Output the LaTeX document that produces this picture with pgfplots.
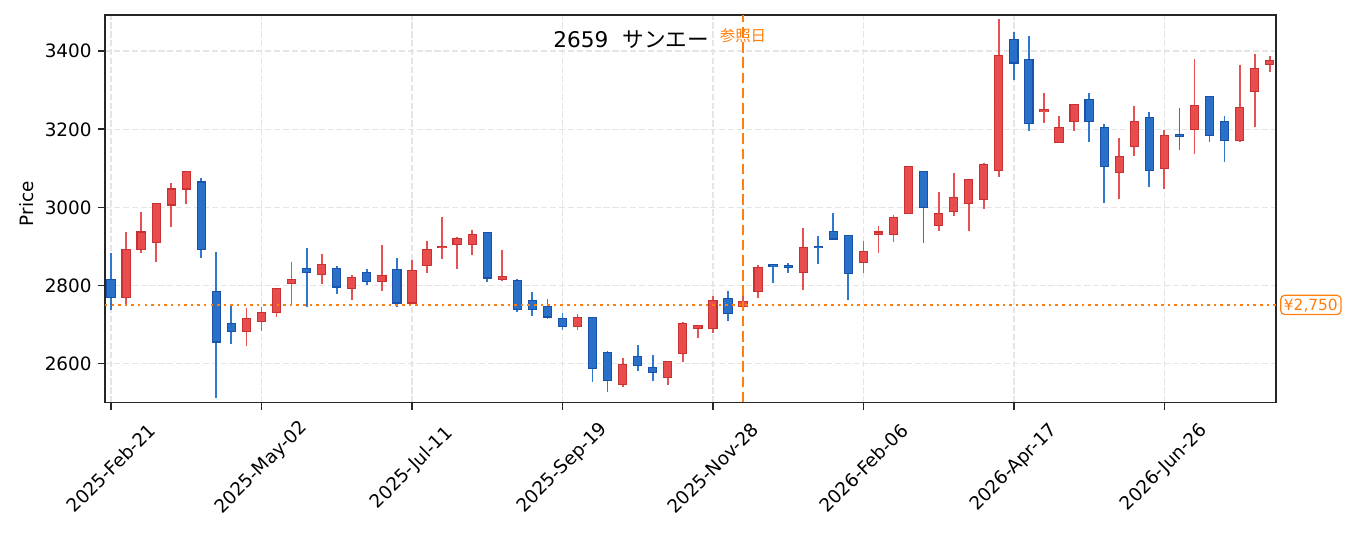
\documentclass[border=0pt]{standalone}
\usepackage{fontspec}
\setmainfont{DejaVu Sans}
\newfontfamily\jp{Noto Sans CJK JP}
\usepackage{pgfplots}
\usepackage{pgfplotstable}
\pgfplotsset{compat=1.18}

\definecolor{upfill}{RGB}{232,76,76}
\definecolor{upedge}{RGB}{200,50,50}
\definecolor{upwick}{RGB}{230,82,82}
\definecolor{dnfill}{RGB}{41,112,201}
\definecolor{dnedge}{RGB}{25,82,168}
\definecolor{dnwick}{RGB}{48,120,205}
\definecolor{mplorange}{RGB}{255,127,14}

% weekly candles: x = week index from 2025-Feb-21, l = low, bl/bh = box low/high, h = high
\pgfplotstableread{
x l bl bh h
1 2753 2770 2893 2938
2 2882 2891 2937 2987
3 2859 2909 3009 3009
4 2949 3006 3047 3063
5 3008 3047 3093 3093
9 2644 2681 2715 2743
10 2682 2707 2731 2744
11 2720 2730 2792 2792
12 2750 2804 2815 2860
14 2803 2827 2854 2881
16 2762 2791 2821 2827
18 2785 2809 2826 2904
20 2755 2755 2839 2866
21 2833 2850 2892 2914
22 2868 2897 2900 2976
23 2843 2904 2921 2924
24 2877 2904 2931 2943
26 2811 2816 2822 2891
31 2687 2694 2718 2727
34 2539 2545 2598 2614
37 2545 2563 2605 2605
38 2605 2625 2703 2706
39 2664 2689 2697 2697
40 2678 2689 2762 2774
42 2739 2746 2758 2782
43 2769 2784 2846 2852
46 2787 2833 2898 2948
50 2831 2858 2887 2914
51 2882 2931 2937 2953
52 2910 2930 2975 2981
53 2983 2985 3105 3105
55 2939 2953 2985 3040
56 2978 2989 3026 3089
57 2939 3010 3072 3072
58 2995 3020 3110 3114
59 3079 3094 3390 3484
62 3216 3245 3251 3294
63 3166 3166 3205 3235
64 3195 3220 3263 3266
67 3021 3089 3131 3179
68 3131 3156 3221 3261
70 3046 3099 3185 3198
72 3136 3199 3262 3379
75 3167 3171 3257 3366
76 3205 3298 3357 3394
77 3346 3366 3377 3389
}\uptab

\pgfplotstableread{
x l bl bh h
0 2736 2768 2816 2883
6 2869 2891 3065 3074
7 2511 2655 2785 2886
8 2651 2681 2703 2746
13 2744 2833 2844 2896
15 2777 2796 2844 2850
17 2800 2810 2833 2842
19 2744 2755 2841 2870
25 2808 2819 2936 2936
27 2731 2738 2812 2816
28 2721 2738 2762 2783
29 2715 2719 2746 2765
30 2685 2694 2715 2730
32 2553 2588 2718 2718
33 2528 2557 2629 2632
35 2580 2594 2618 2647
36 2554 2576 2590 2622
41 2710 2728 2766 2786
44 2805 2848 2854 2854
45 2833 2845 2852 2858
47 2854 2897 2900 2926
48 2916 2919 2939 2986
49 2762 2830 2927 2930
54 2908 3000 3091 3094
60 3326 3370 3431 3450
61 3195 3215 3380 3440
65 3167 3220 3277 3294
66 3010 3104 3205 3214
69 3051 3095 3231 3245
71 3146 3183 3186 3255
73 3167 3184 3285 3285
74 3116 3171 3221 3235
}\dntab

\pgfplotsset{
  candlepart/.style 2 args={only marks, mark=*, mark size=0pt,
    mark options={draw=none, fill=none}, forget plot,
    error bars/.cd, y dir=both, y explicit, error mark=none,
    error bar style={draw=#1, line width=#2, line cap=butt}},
}

\begin{document}
\begin{tikzpicture}
\begin{axis}[
  at={(0,0)}, anchor=south west,
  scale only axis, width=585.35pt, height=193.75pt,
  xmin=-0.4, xmax=77.4, ymin=2500, ymax=3493,
  clip=false,
  axis line style={black!85, line width=0.85pt},
  xtick={0,10,20,30,40,50,60,70},
  xticklabels={2025-Feb-21,2025-May-02,2025-Jul-11,2025-Sep-19,2025-Nov-28,2026-Feb-06,2026-Apr-17,2026-Jun-26},
  ytick={2600,2800,3000,3200,3400},
  scaled y ticks=false,
  tick align=outside, xtick pos=bottom, ytick pos=left,
  major tick length=3.7pt,
  tick style={black!85, line width=0.85pt},
  grid=major,
  major grid style={black!10, line width=0.8pt, dash pattern=on 3.1pt off 1.35pt},
  /pgf/number format/.cd, 1000 sep={}, assume math mode=true, /pgfplots/.cd,
  ticklabel style={font=\fontsize{9.2}{11}\selectfont},
  yticklabel style={anchor=east, inner sep=0pt, xshift=-2.8pt},
  xticklabel style={anchor=center, inner sep=0pt, yshift=-29.1pt, rotate=45},
  ylabel={Price},
  ylabel style={at={(axis description cs:-0.067,0.513)}, anchor=center, inner sep=0pt, font=\fontsize{9.2}{11}\selectfont},
]
% wicks
\addplot[candlepart={upwick}{0.9pt}] table[x=x, y expr={(\thisrow{h}+\thisrow{l})/2}, y error expr={(\thisrow{h}-\thisrow{l})/2}] {\uptab};
\addplot[candlepart={dnwick}{0.9pt}] table[x=x, y expr={(\thisrow{h}+\thisrow{l})/2}, y error expr={(\thisrow{h}-\thisrow{l})/2}] {\dntab};
% box edges
\addplot[candlepart={upedge}{4.65pt}] table[x=x, y expr={(\thisrow{bh}+\thisrow{bl})/2}, y error expr={(\thisrow{bh}-\thisrow{bl})/2+1.4}] {\uptab};
\addplot[candlepart={dnedge}{4.65pt}] table[x=x, y expr={(\thisrow{bh}+\thisrow{bl})/2}, y error expr={(\thisrow{bh}-\thisrow{bl})/2+1.4}] {\dntab};
% box fills
\addplot[candlepart={upfill}{3.55pt}] table[x=x, y expr={(\thisrow{bh}+\thisrow{bl})/2}, y error expr={max((\thisrow{bh}-\thisrow{bl})/2-1.4,0)}] {\uptab};
\addplot[candlepart={dnfill}{3.55pt}] table[x=x, y expr={(\thisrow{bh}+\thisrow{bl})/2}, y error expr={max((\thisrow{bh}-\thisrow{bl})/2-1.4,0)}] {\dntab};
% reference lines
\addplot[mplorange, line width=1.25pt, dash pattern=on 1.25pt off 2.05pt] coordinates {(-0.4,2750) (77.4,2750)};
\addplot[mplorange, line width=1.4pt, dash pattern=on 5.3pt off 2.3pt] coordinates {(42,2500) (42,3493)};
\node[anchor=base west, inner sep=0pt, font=\fontsize{10.8}{13}\selectfont] at (rel axis cs:0.3827,0.9156) {2659\hspace{7pt}{\jp サンエー}};
\node[anchor=base, inner sep=0pt, text=mplorange, font=\jp\fontsize{7.7}{9}\selectfont] at (axis cs:42,3426) {参照日};
\node[anchor=west, xshift=2.2pt, draw=mplorange, line width=0.6pt, rounded corners=2pt, fill=white, text=mplorange, inner xsep=1.6pt, inner ysep=2pt, text height=5.6pt, text depth=0pt, font=\fontsize{7.7}{9}\selectfont] at (axis cs:77.4,2750) {¥2,750};
\end{axis}
\pgfresetboundingbox
\path (-52.5pt,-65.25pt) rectangle (625pt,201.25pt);
\end{tikzpicture}
\end{document}
